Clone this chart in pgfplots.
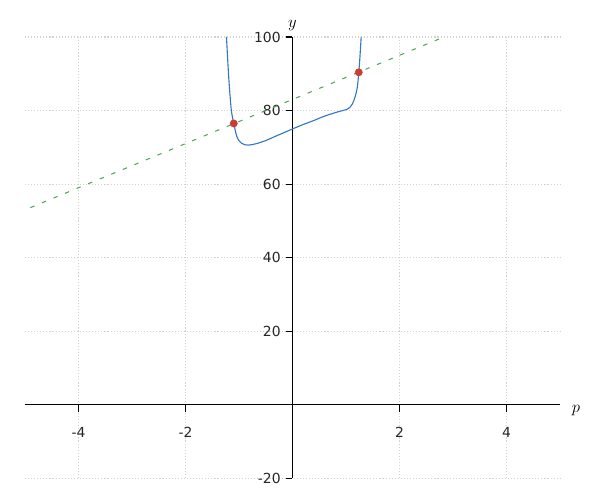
\documentclass[border=0pt]{standalone}
\usepackage{fontspec}
\setmainfont{DejaVu Sans}
\usepackage{pgfplots}
\pgfplotsset{compat=1.18}

\definecolor{curveblue}{RGB}{52,118,198}
\definecolor{ptred}{RGB}{204,60,50}
\definecolor{lngreen}{RGB}{80,165,90}
\definecolor{gridgray}{RGB}{210,210,210}

\begin{document}
\begin{tikzpicture}
% fixed page: 432pt x 360pt, axis box placed at (0,0)
\useasboundingbox (-18pt,-15.6pt) rectangle (414pt,344.34pt);
\begin{axis}[
  scale only axis,
  width=385.2pt, height=317.7pt,
  xmin=-5, xmax=5, ymin=-20, ymax=100,
  axis lines=middle,
  axis line style={-, line width=0.8pt, black},
  xtick={-4,-2,2,4}, xticklabels={-4,-2,2,4},
  ytick={-20,20,40,60,80,100}, yticklabels={-20,20,40,60,80,100},
  tick align=outside,
  major tick length=5pt,
  tick style={line width=0.8pt, black},
  ticklabel style={font=\fontsize{10}{12}\selectfont, text=black!85},
  xticklabel style={yshift=-7.7pt},
  grid=major,
  grid style={line width=0.8pt, gridgray, dash pattern=on 0.8pt off 1.4pt},
  xlabel={$p$}, ylabel={$y$},
  x label style={font=\large, at={(axis cs:5,0)}, anchor=west, xshift=5pt, yshift=-4pt},
  y label style={font=\large, at={(axis cs:0,100)}, anchor=south, yshift=1pt},
  clip=false,
]
% dashed line through both red points
\addplot[lngreen, line width=0.75pt, dash pattern=on 3.2pt off 5.8pt]
  coordinates {(-4.9,53.6) (2.83,100)};

% blue curve, points
\addplot[curveblue, line width=0.8pt, smooth, tension=0.45] coordinates {
  (-1.234,100) (-1.21,93.5) (-1.19,88.6) (-1.17,84.6) (-1.146,80.4)
  (-1.12,78.0) (-1.097,76.5) (-1.07,74.6) (-1.04,72.9) (-1.00,71.8)
  (-0.95,71.1) (-0.89,70.7) (-0.83,70.6) (-0.75,70.75) (-0.65,71.1)
  (-0.505,71.8) (-0.35,72.8) (-0.19,73.8) (0,75.0) (0.20,76.2)
  (0.40,77.3) (0.585,78.4) (0.75,79.2) (0.85,79.65) (0.93,79.95)
  (0.99,80.2) (1.04,80.5) (1.08,81.0) (1.115,81.7) (1.146,82.7)
  (1.18,84.2) (1.21,86.2) (1.225,88.0) (1.239,90.4) (1.255,93.3)
  (1.27,96.7) (1.284,100)
};

% intersection points
\addplot[only marks, mark=*, mark size=2.6pt,
         mark options={fill=ptred, draw=ptred}]
  coordinates {(-1.097,76.5) (1.239,90.4)};
\end{axis}
\end{tikzpicture}
\end{document}
